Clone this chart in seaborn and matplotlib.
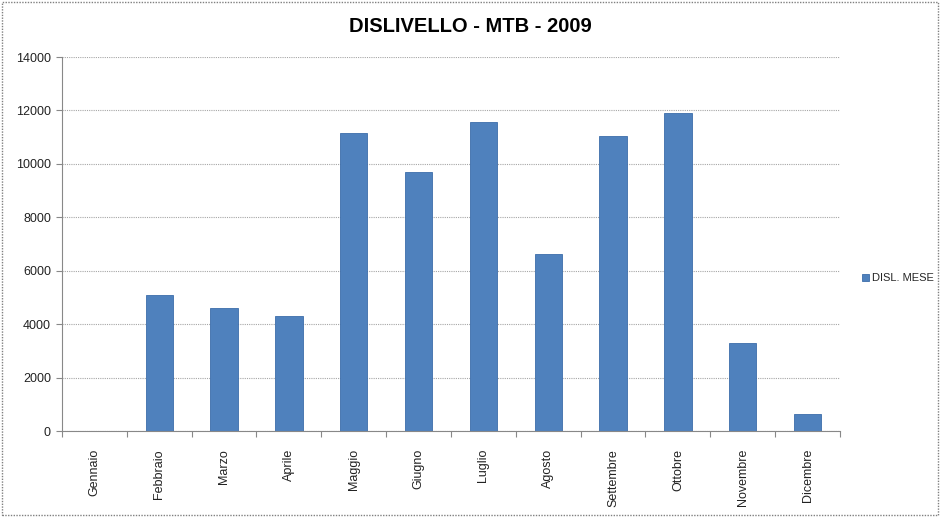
import matplotlib
matplotlib.use("Agg")
import matplotlib.pyplot as plt
import matplotlib.patches as mpatches
from matplotlib.ticker import FixedLocator
import seaborn as sns
import pandas as pd

months = ["Gennaio", "Febbraio", "Marzo", "Aprile", "Maggio", "Giugno",
          "Luglio", "Agosto", "Settembre", "Ottobre", "Novembre", "Dicembre"]
disl_mese = [0, 5090, 4590, 4310, 11170, 9685, 11555, 6640, 11045, 11895, 3285, 625]
y_ticks = [0, 2000, 4000, 6000, 8000, 10000, 12000, 14000]
series_name = "DISL. MESE"
title = "DISLIVELLO - MTB - 2009"

sns.set_theme(style="white")
plt.rcParams["font.family"] = ["Liberation Sans", "DejaVu Sans"]

df = pd.DataFrame({"Mese": months, "Dislivello": disl_mese})

fig = plt.figure(figsize=(9.41, 5.17), dpi=100)
ax = fig.add_axes([62/941, 1 - 431/517, (840-62)/941, (431-57)/517])

sns.barplot(data=df, x="Mese", y="Dislivello", color="#4F81BD", width=0.42,
            saturation=1, edgecolor="#3C6DAA", linewidth=0.6, label=series_name, ax=ax)
handles, labels = ax.get_legend_handles_labels()
if ax.get_legend() is not None:
    ax.get_legend().remove()

ax.set_ylim(0, 14000)
ax.set_xlim(-0.5, len(months) - 0.5)
ax.set_yticks(y_ticks)
ax.set_yticklabels([str(v) for v in y_ticks], fontsize=9, color="#222222")
ax.yaxis.grid(True, color="#A6A6A6", linestyle=(0, (1, 1)), linewidth=0.8)
ax.set_axisbelow(True)
ax.set_xlabel("")
ax.set_ylabel("")
ax.set_xticks(range(len(months)))
ax.set_xticklabels(months, rotation=90, fontsize=9, color="#222222")
ax.tick_params(axis="x", which="major", length=0, pad=13)
ax.xaxis.set_minor_locator(FixedLocator([i - 0.5 for i in range(len(months) + 1)]))
ax.tick_params(axis="x", which="minor", length=4, color="#888888", width=0.8, direction="out", bottom=True)
ax.tick_params(axis="y", length=4, color="#888888", width=0.8, direction="out", left=True, pad=4)
for side in ["top", "right"]:
    ax.spines[side].set_visible(False)
for side in ["left", "bottom"]:
    ax.spines[side].set_color("#888888")
    ax.spines[side].set_linewidth(0.8)
    ax.spines[side].set_linestyle((0, (1, 1)))

fig.text(0.5, 1 - 27/517, title, ha="center", va="center", fontsize=14.5,
         fontweight="bold", color="#000000")

leg = fig.legend(handles, labels, loc="center left", bbox_to_anchor=(862/941, 1 - 278/517),
                 frameon=False, fontsize=8, handlelength=0.6, handleheight=0.6,
                 handletextpad=0.3, borderaxespad=0, borderpad=0)

fig.patches.append(mpatches.Rectangle((0.002, 0.003), 0.995, 0.994, transform=fig.transFigure,
                                      fill=False, edgecolor="#808080", linestyle=(0, (1, 1)),
                                      linewidth=1))

fig.savefig("out.png", dpi=100)
